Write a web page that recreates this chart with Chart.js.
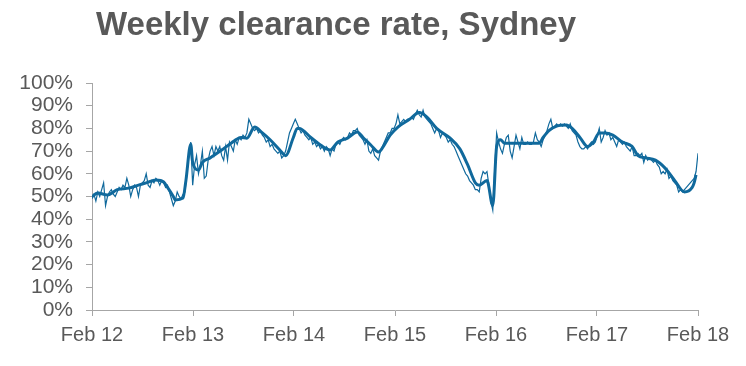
<!DOCTYPE html>
<html>
<head>
<meta charset="utf-8">
<script src="https://cdn.jsdelivr.net/npm/chart.js@4/dist/chart.umd.min.js"></script>
<style>
html,body{margin:0;padding:0;background:#fff;}
canvas{display:block;}
</style>
</head>
<body>
<canvas id="c" width="746" height="366"></canvas>
<script>
const chartTitle = "Weekly clearance rate, Sydney";
const xTickLabels = ["Feb 12","Feb 13","Feb 14","Feb 15","Feb 16","Feb 17","Feb 18"];
const yearStartWeeks = [0, 52.17, 104.33, 156.5, 208.67, 260.83, 313];
const yTickValues = [0,10,20,30,40,50,60,70,80,90,100];
// weekly clearance rate (%), one value per week from Feb 2012
const weeklyRate = [
 49,51,48,52,50,53,56,46,50,52,53,51,50,
 52,54,53,55,54,58,55,50,53,55,54,50,55,
 56,57,60,55,54,57,56,58,57,55,57,56,54,
 55,52,49,46,48,52,50,49,51,52,60,68,74,
 55,64,68,60,64,70,58,59,66,70,72,68,72,70,72,68,66,72,66,74,72,70,75,73,76,75,77,76,78,84,82,80,79,80,78,79,77,76,74,75,72,73,71,70,69,70,67,68,70,74,78,80,
 82,84,82,80,78,79,77,76,75,76,73,74,72,73,71,72,70,72,71,68,71,70,73,74,73,75,76,75,76,78,77,79,79,80,77,76,75,73,75,70,69,71,68,67,66,70,72,74,76,78,78,80,
 80,82,86,82,83,84,83,84,84,85,84,86,88,86,85,88,85,84,83,82,80,78,80,79,76,78,77,76,74,75,73,72,70,68,66,64,62,60,59,57,56,55,53,53,52,58,61,60,61,55,48,44,
 62,78,74,71,69,73,76,77,70,67,72,77,74,71,76,73,73,74,73,73,74,78,75,74,72,75,77,79,82,84,80,81,82,81,82,81,82,81,80,82,79,78,77,74,72,71,71,72,71,73,74,73,
 74,77,80,74,76,79,77,78,75,76,74,72,75,74,73,74,72,71,70,72,68,68,69,68,69,65,68,66,67,66,65,66,64,63,60,61,60,62,58,59,57,56,55,52,53,52,53,54,55,56,57,58,61,69
];
// smoothed trend: week positions and values (%)
const trendWeeks = [0,3,8,13,19,24,28,33,37,39,42,43,47,48.5,51,52,55,57,61,67,72,77,80,84,88,92,97,100,104,106,107,113,118,123,127,132,137,140,144,148,150,154,158,164,169,173,178,185,190,194,198,200,204,207,209,211,213,223,231,233,236,240,245,248,252,256,259,262,265,269,274,279,282,286,291,296,301,306,310,311,312];
const trendValues = [50,51.5,50.7,53,53.7,55,56,57.3,56.4,54,50,48.5,49.3,57,73,65,61.7,65,67,70.5,73.6,76,75.7,80.6,78,75,70.5,68,76,80,80,76,72.7,70.5,74,75.7,78.4,76,72.7,69.6,71.4,77,80.6,84,87,85,80,75.7,71,64,56,55,57,46,72,75,73.5,73.5,73.5,76,79,81,81.5,80,76,72,74,78,78,77,74,72,68,67,66,62.5,57,52,54,56,59.5];

const lineColor = "#10699c";
const axisColor = "#a6a6a6";
const textColor = "#595959";

const titlePlugin = {
  id: "customTitle",
  afterDraw(chart) {
    const ctx = chart.ctx;
    ctx.save();
    ctx.font = "bold 33px 'Liberation Sans', Arial, sans-serif";
    ctx.fillStyle = textColor;
    ctx.textAlign = "center";
    ctx.textBaseline = "alphabetic";
    ctx.fillText(chartTitle, 336, 35);
    ctx.restore();
  }
};

new Chart(document.getElementById("c"), {
  type: "line",
  data: {
    datasets: [
      {
        label: "Trend",
        data: trendWeeks.map((w, i) => ({x: w, y: trendValues[i]})),
        borderColor: lineColor,
        borderWidth: 3,
        pointRadius: 0,
        cubicInterpolationMode: "monotone",
        fill: false
      },
      {
        label: "Weekly",
        data: weeklyRate.map((v, i) => ({x: i, y: v})),
        borderColor: lineColor,
        borderWidth: 1.2,
        pointRadius: 0,
        tension: 0,
        fill: false
      }
    ]
  },
  options: {
    responsive: false,
    animation: false,
    layout: {padding: {top: 83, right: 48, bottom: 0, left: 0}},
    plugins: {legend: {display: false}, tooltip: {enabled: false}, title: {display: false}},
    scales: {
      x: {
        type: "linear",
        min: 0,
        max: 313,
        afterBuildTicks(scale) { scale.ticks = yearStartWeeks.map(v => ({value: v})); },
        afterFit(scale) { scale.height = 56; },
        ticks: {
          autoSkip: false,
          maxRotation: 0,
          padding: 7,
          color: textColor,
          font: {family: "'Liberation Sans', Arial, sans-serif", size: 20},
          callback: (v, i) => xTickLabels[i]
        },
        grid: {display: true, drawOnChartArea: false, drawTicks: true, tickLength: 6, color: axisColor},
        border: {display: true, color: axisColor, width: 1}
      },
      y: {
        min: 0,
        max: 100,
        afterBuildTicks(scale) { scale.ticks = yTickValues.map(v => ({value: v})); },
        afterFit(scale) { scale.width = 92; },
        ticks: {
          autoSkip: false,
          padding: 13,
          color: textColor,
          font: {family: "'Liberation Sans', Arial, sans-serif", size: 21},
          callback: v => v + "%"
        },
        grid: {display: true, drawOnChartArea: false, drawTicks: true, tickLength: 6, color: axisColor},
        border: {display: true, color: axisColor, width: 1}
      }
    }
  },
  plugins: [titlePlugin]
});
</script>
</body>
</html>
